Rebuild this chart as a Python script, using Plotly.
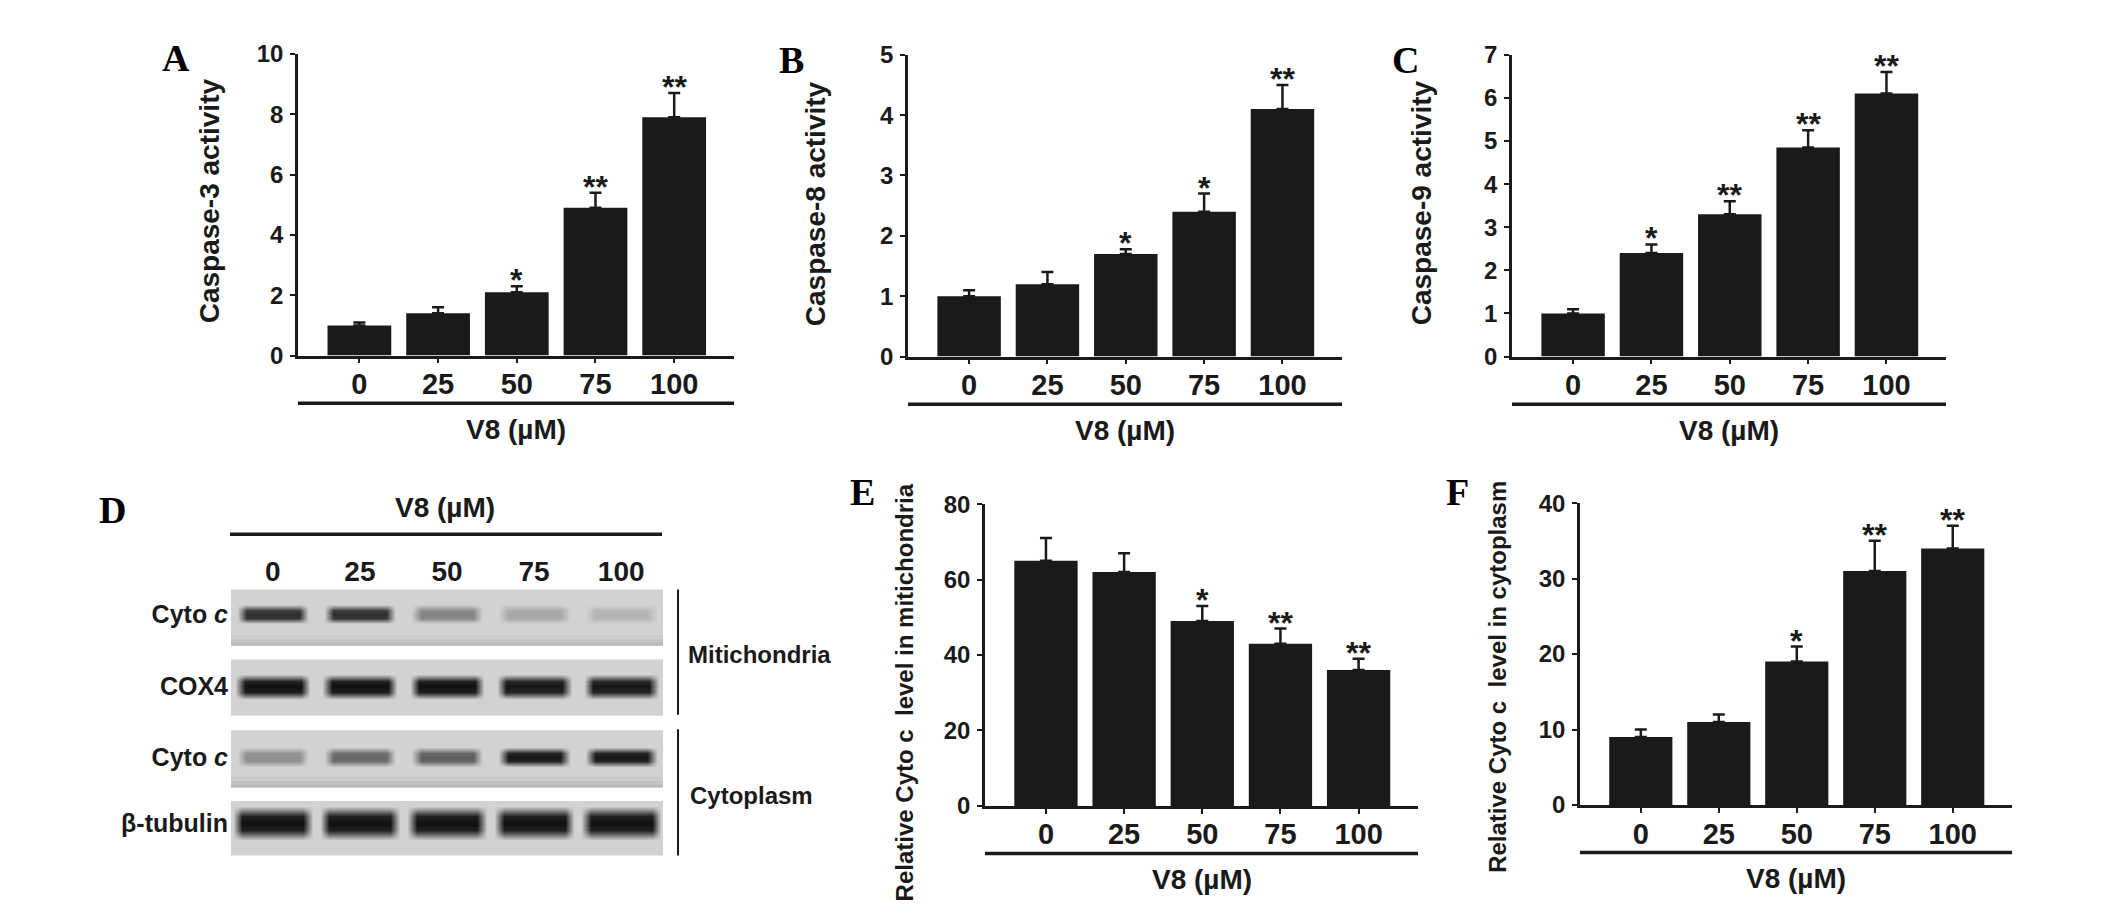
import plotly.graph_objects as go

# --- data ---
doses = ["0", "25", "50", "75", "100"]

casp3 = [1.0, 1.4, 2.1, 4.9, 7.9]
casp3_err = [0.1, 0.2, 0.2, 0.5, 0.8]
casp3_sig = ["", "", "*", "**", "**"]

casp8 = [1.0, 1.2, 1.7, 2.4, 4.1]
casp8_err = [0.1, 0.2, 0.08, 0.3, 0.4]
casp8_sig = ["", "", "*", "*", "**"]

casp9 = [1.0, 2.4, 3.3, 4.85, 6.1]
casp9_err = [0.1, 0.2, 0.3, 0.4, 0.5]
casp9_sig = ["", "*", "**", "**", "**"]

mito_cytoc = [65, 62, 49, 43, 36]
mito_cytoc_err = [6, 5, 4, 4, 3]
mito_cytoc_sig = ["", "", "*", "**", "**"]

cyto_cytoc = [9, 11, 19, 31, 34]
cyto_cytoc_err = [1, 1, 2, 4, 3]
cyto_cytoc_sig = ["", "", "*", "**", "**"]

# western blot band intensities (0 = background, 1 = black)
blot_rows = ["Cyto <i>c</i>", "COX4", "Cyto <i>c</i>", "β-tubulin"]
band_mito_cytoc = [0.85, 0.85, 0.4, 0.22, 0.15]
band_cox4 = [1.0, 1.0, 1.0, 0.97, 0.97]
band_cyto_cytoc = [0.35, 0.55, 0.6, 0.97, 0.97]
band_tubulin = [1.0, 1.0, 1.0, 1.0, 1.0]

W, H = 2126, 916
SANS = "Liberation Sans, Arial, sans-serif"
SERIF = "Liberation Serif, Times New Roman, serif"
INK = "#1a1a1a"
BLOT_BG = "#d2d2d2"


def px(x, y):
    """pixel position -> paper coords"""
    return x / W, 1 - y / H


def bold(size, family=SANS, color=INK):
    return dict(family=family, size=size, color=color, weight="bold")


fig = go.Figure()
annotations = []
shapes = []

# bar panels: axis suffix, values, errors, stars, y max, dtick, x px span, y px span, title, title size, title centre
panels = [
    ("", casp3, casp3_err, casp3_sig, 10, 2, (298, 734), (41, 352), "Caspase-3 activity", 28, (209, 193)),
    ("2", casp8, casp8_err, casp8_sig, 5, 1, (908, 1342), (42, 353), "Caspase-8 activity", 28, (815, 196)),
    ("3", casp9, casp9_err, casp9_sig, 7, 1, (1512, 1946), (42, 353), "Caspase-9 activity", 28, (1421, 195)),
    ("4", mito_cytoc, mito_cytoc_err, mito_cytoc_sig, 80, 20, (985, 1418), (505, 816),
     "Relative Cyto c\u00a0\u00a0level in mitichondria", 24, (904, 699)),
    ("5", cyto_cytoc, cyto_cytoc_err, cyto_cytoc_sig, 40, 10, (1580, 2012), (504, 815),
     "Relative Cyto c\u00a0\u00a0level in cytoplasm", 24, (1498, 683)),
]

for key, vals, errs, sig, ymax, dtick, xs, ys, title, tsize, tpos in panels:
    fig.add_trace(go.Bar(
        x=doses, y=vals, xaxis="x" + key, yaxis="y" + key,
        marker=dict(color=INK, line=dict(width=0)),
        error_y=dict(type="data", array=errs, arrayminus=[0] * len(errs), symmetric=False,
                     thickness=2.5, width=6, color=INK),
        showlegend=False,
    ))
    x0, _ = px(xs[0], 0)
    x1, _ = px(xs[1], 0)
    _, y0 = px(0, ys[1])
    _, y1 = px(0, ys[0])
    fig.layout["xaxis" + key] = dict(
        domain=[x0, x1], anchor="y" + key, type="category", range=[-0.78, 4.76],
        showline=True, linecolor=INK, linewidth=2.5, ticks="outside", ticklen=5, tickwidth=2,
        tickcolor=INK, tickfont=bold(29), ticklabelstandoff=-4,
        showgrid=False, zeroline=False, fixedrange=True,
    )
    fig.layout["yaxis" + key] = dict(
        domain=[y0, y1], anchor="x" + key, range=[0, ymax], dtick=dtick,
        showline=True, linecolor=INK, linewidth=2.5, ticks="outside", ticklen=5, tickwidth=2,
        tickcolor=INK, tickfont=bold(24), ticklabelstandoff=2,
        showgrid=False, zeroline=False, fixedrange=True,
    )
    # significance stars (category axes take the category index)
    for i, (v, e, s) in enumerate(zip(vals, errs, sig)):
        if s:
            annotations.append(dict(
                x=i, y=v + e, xref="x" + key, yref="y" + key, text=s, showarrow=False,
                xanchor="center", yanchor="middle", yshift=6, font=bold(32),
            ))
    # line under the dose labels and the dose title
    under_y = ys[1] + 49
    shapes.append(dict(type="line", xref="paper", yref="paper",
                       x0=x0, x1=x1, y0=px(0, under_y)[1], y1=px(0, under_y)[1],
                       line=dict(color=INK, width=3.5)))
    annotations.append(dict(x=(x0 + x1) / 2, y=px(0, ys[1] + 76)[1], xref="paper", yref="paper",
                            text="V8 (µM)", showarrow=False, xanchor="center", yanchor="middle",
                            font=bold(28)))
    tx, ty = px(*tpos)
    annotations.append(dict(x=tx, y=ty, xref="paper", yref="paper", text=title, textangle=-90,
                            xanchor="center", yanchor="middle", showarrow=False, font=bold(tsize)))

# western blot panel D: one strip per antibody, bands drawn as a smoothed heatmap
# (band centre, band half thickness, band half width, all in strip units; shaded strip edge)
blots = [
    (band_mito_cytoc, (593, 651), 0.13, 0.23, 0.35, True),
    (band_cox4, (665, 723), 0.03, 0.30, 0.37, False),
    (band_cyto_cytoc, (738, 797), 0.07, 0.23, 0.35, True),
    (band_tubulin, (811, 867), 0.20, 0.42, 0.40, False),
]
row_steps = [-1.5, -0.6, 0, 0.6, 1.5]
row_shade = [0, 0.92, 1, 0.92, 0]
col_shade = [0, 1, 1, 0]
edge_fade = [(0.0, 0.05, 0.30), (0.05, 0.11, 0.18), (0.11, 0.19, 0.08)]

bx0, _ = px(231, 0)
bx1, _ = px(663, 0)
for i, (bands, ys, yc, half, hw, shaded) in enumerate(blots):
    n = str(6 + i)
    col_steps = [-hw - 0.06, -hw + 0.05, hw - 0.05, hw + 0.06]
    hx = [lane + c for lane in range(len(bands)) for c in col_steps]
    hy = [yc + r * half for r in row_steps]
    hz = [[rs * cs * b for b in bands for cs in col_shade] for rs in row_shade]
    fig.add_trace(go.Heatmap(
        x=hx, y=hy, z=hz, xaxis="x" + n, yaxis="y" + n, zsmooth="best",
        colorscale=[[0, BLOT_BG], [1, "#111111"]], zmin=0, zmax=1, showscale=False,
        hoverinfo="skip",
    ))
    _, y0 = px(0, ys[1])
    _, y1 = px(0, ys[0])
    top = i == 0
    fig.layout["xaxis" + n] = dict(
        domain=[bx0, bx1], anchor="y" + n, range=[-0.48, 4.48],
        tickvals=list(range(len(doses))), ticktext=doses,
        side="top", showticklabels=top, ticks="", showline=False, showgrid=False, zeroline=False,
        tickfont=bold(28), ticklabelstandoff=2, fixedrange=True,
    )
    fig.layout["yaxis" + n] = dict(
        domain=[y0, y1], anchor="x" + n, range=[-1, 1], tickvals=[yc], ticktext=[blot_rows[i]],
        ticks="", showline=False, showgrid=False, zeroline=False, ticklabelstandoff=2,
        tickfont=bold(25), fixedrange=True,
    )
    shapes.append(dict(type="rect", xref="x" + n + " domain", yref="y" + n + " domain",
                       x0=0, x1=1, y0=0, y1=1, fillcolor=BLOT_BG, line=dict(width=0), layer="below"))
    if shaded:
        # darker film edge at the bottom of the strip, fading upward
        for f0, f1, op in edge_fade:
            shapes.append(dict(type="rect", xref="x" + n + " domain", yref="y" + n + " domain",
                               x0=0, x1=1, y0=f0, y1=f1, fillcolor="#7a7a7a", opacity=op,
                               line=dict(width=0), layer="below"))

# brackets and text around the blot
lx, _ = px(678, 0)
for ya, yb in [(593, 722), (737, 867)]:
    shapes.append(dict(type="line", xref="paper", yref="paper", x0=lx, x1=lx,
                       y0=px(0, ya)[1], y1=px(0, yb)[1], line=dict(color=INK, width=2)))
shapes.append(dict(type="line", xref="paper", yref="paper", x0=px(230, 0)[0], x1=px(662, 0)[0],
                   y0=px(0, 536)[1], y1=px(0, 536)[1], line=dict(color=INK, width=3.5)))
annotations.append(dict(x=px(445, 0)[0], y=px(0, 508)[1], xref="paper", yref="paper", text="V8 (µM)",
                        xanchor="center", yanchor="middle", showarrow=False, font=bold(28)))
for text, pos in [("Mitichondria", (686, 660)), ("Cytoplasm", (688, 805))]:
    annotations.append(dict(x=px(*pos)[0], y=px(*pos)[1], xref="paper", yref="paper", text=text,
                            xanchor="left", yanchor="middle", showarrow=False, font=bold(24)))

# panel letters
for letter, pos in [("A", (176, 45)), ("B", (791, 47)), ("C", (1405, 47)),
                    ("D", (112, 511)), ("E", (862, 493)), ("F", (1457, 493))]:
    annotations.append(dict(x=px(*pos)[0], y=px(*pos)[1], xref="paper", yref="paper", text=letter,
                            xanchor="center", yanchor="middle", showarrow=False,
                            font=bold(38, SERIF, "#000")))

fig.update_layout(
    width=W, height=H, autosize=False,
    margin=dict(l=0, r=0, t=0, b=0),
    paper_bgcolor="white", plot_bgcolor="white",
    bargap=0.19,
    annotations=annotations, shapes=shapes,
)

# drop the default page margin and scrollbars so the figure fills the window exactly
fig.write_html(
    "out.html", config={"displayModeBar": False},
    post_script="document.body.style.margin='0';document.body.style.overflow='hidden';"
                "document.documentElement.style.overflow='hidden';",
)
